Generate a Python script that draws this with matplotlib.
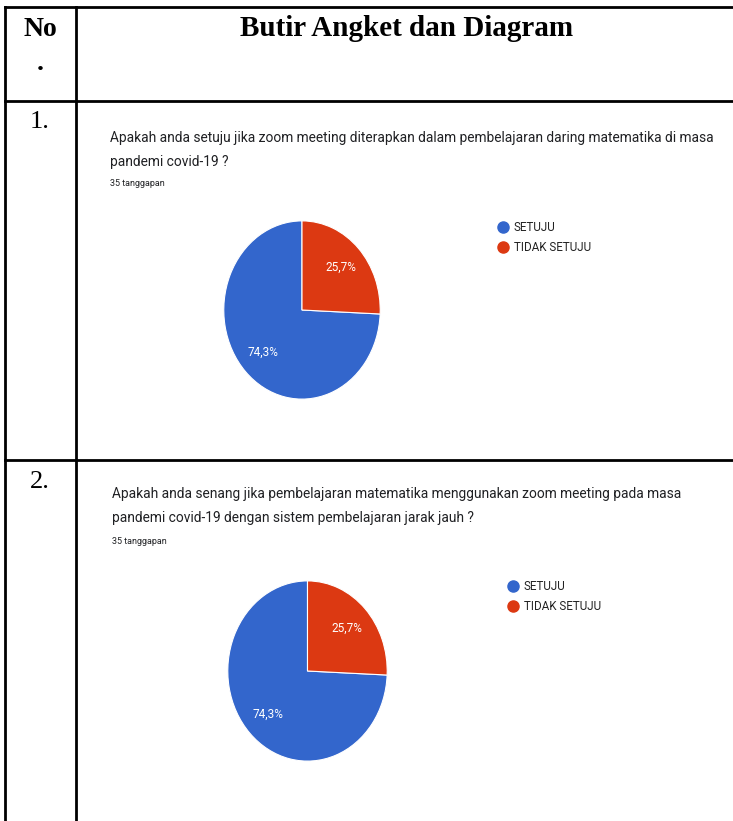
import matplotlib.pyplot as plt
from matplotlib.lines import Line2D

W, H = 733, 821

# data (35 responses each)
labels = ['SETUJU', 'TIDAK SETUJU']
counts_1 = [26, 9]
counts_2 = [26, 9]
n_resp = [35, 35]
questions = [
    'Apakah anda setuju jika zoom meeting diterapkan dalam pembelajaran daring matematika di masa\npandemi covid-19 ?',
    'Apakah anda senang jika pembelajaran matematika menggunakan zoom meeting pada masa\npandemi covid-19 dengan sistem pembelajaran jarak jauh ?',
]
row_no = ['1.', '2.']
colors = ['#3366cc', '#dc3912']

fig = plt.figure(figsize=(W / 100, H / 100), dpi=100)
bg = fig.add_axes([0, 0, 1, 1])
bg.set_xlim(0, W)
bg.set_ylim(H, 0)
bg.axis('off')

# table grid
lw = 2
bg.plot([5, 5], [7, H], color='black', lw=lw)
bg.plot([76, 76], [7, H], color='black', lw=lw)
bg.plot([5, W], [7, 7], color='black', lw=lw)
bg.plot([5, W], [101, 101], color='black', lw=lw)
bg.plot([5, W], [460, 460], color='black', lw=lw)

serif = 'Liberation Serif'
bg.text(40, 29, 'No', ha='center', va='center', fontsize=20, fontweight='bold', family=serif)
bg.text(40, 63, '.', ha='center', va='center', fontsize=20, fontweight='bold', family=serif)
bg.text(407, 29, 'Butir Angket dan Diagram', ha='center', va='center', fontsize=21,
        fontweight='bold', family=serif)

# per row: text position, pie box (left, right, top, bottom), legend anchor
rows = [
    dict(no_y=122, tx=110, ty=131, sub_y=183, box=(223, 381, 220, 400), leg=(499, 221)),
    dict(no_y=482, tx=112, ty=487, sub_y=541, box=(227, 388, 580, 762), leg=(509, 580)),
]
data = [counts_1, counts_2]

for i, r in enumerate(rows):
    bg.text(40, r['no_y'], row_no[i], ha='center', va='center', fontsize=19, family=serif)
    bg.text(r['tx'], r['ty'], questions[i], ha='left', va='top', fontsize=9.95,
            color='#202124', family='Roboto', linespacing=1.9)
    bg.text(r['tx'], r['sub_y'], f'{n_resp[i]} tanggapan', ha='left', va='center',
            fontsize=6.5, color='#202124', family='Roboto')

    l, rr, t, b = r['box']
    ax = fig.add_axes([l / W, 1 - b / H, (rr - l) / W, (b - t) / H])
    wedges, _, autot = ax.pie(data[i], colors=colors, startangle=90, counterclock=True,
                              autopct=lambda p: f'{p:.1f}%'.replace('.', ','),
                              pctdistance=0.69,
                              wedgeprops=dict(edgecolor='white', linewidth=0.8),
                              textprops=dict(color='white', fontsize=8.5, family='Roboto'))
    ax.set_aspect('auto')
    ax.set_xlim(-1.01, 1.01)
    ax.set_ylim(-1.01, 1.01)

    handles = [Line2D([], [], marker='o', ls='', markersize=8, color=c) for c in colors]
    ax.legend(handles, labels, loc='upper left', bbox_to_anchor=(r['leg'][0] / W, 1 - r['leg'][1] / H),
              bbox_transform=fig.transFigure, frameon=False, handlelength=0.7,
              handletextpad=0.55, labelspacing=0.6, borderpad=0, borderaxespad=0,
              prop=dict(family='Roboto', size=8.4), labelcolor='#222222')

fig.savefig('out.png', dpi=100)
